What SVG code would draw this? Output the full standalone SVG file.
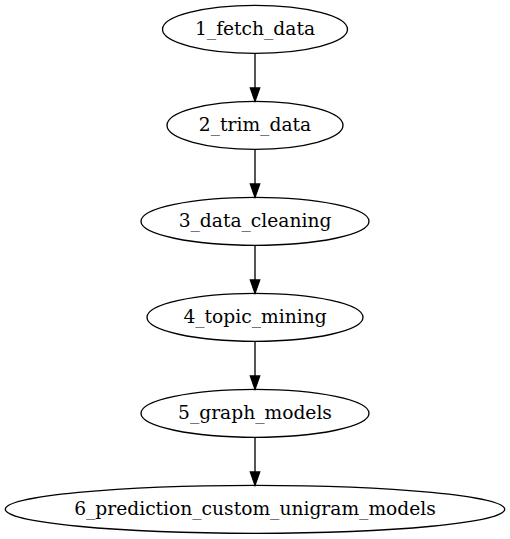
<svg xmlns="http://www.w3.org/2000/svg" width="510" height="539" viewBox="0 0 510 539">
<style>
.node ellipse{fill:none;stroke:#000;stroke-width:1.33}
.node text{font-family:"DejaVu Serif",serif;font-size:18.67px;text-anchor:middle;fill:#000}
.edge path{fill:none;stroke:#000;stroke-width:1.33}
.edge polygon{fill:#000;stroke:#000;stroke-width:1.33}
</style>
<rect width="510" height="539" fill="#fff"/>
<g id="n1" class="node"><ellipse cx="255" cy="29.3" rx="92.5" ry="24"/><text x="255" y="34.9">1_fetch_data</text></g>
<g id="n2" class="node"><ellipse cx="255" cy="125.3" rx="88" ry="24"/><text x="255" y="130.9">2_trim_data</text></g>
<g id="n3" class="node"><ellipse cx="255" cy="221.3" rx="114" ry="24"/><text x="255" y="226.9">3_data_cleaning</text></g>
<g id="n4" class="node"><ellipse cx="255" cy="317.3" rx="108" ry="24"/><text x="255" y="322.9">4_topic_mining</text></g>
<g id="n5" class="node"><ellipse cx="255" cy="413.3" rx="114" ry="24"/><text x="255" y="418.9">5_graph_models</text></g>
<g id="n6" class="node"><ellipse cx="255" cy="509.3" rx="249.7" ry="24"/><text x="255" y="514.9">6_prediction_custom_unigram_models</text></g>
<g id="edges" class="edge">
<path d="M255,53.3V88"/><polygon points="259.67,88 255,101.3 250.33,88"/>
<path d="M255,149.3V184"/><polygon points="259.67,184 255,197.3 250.33,184"/>
<path d="M255,245.3V280"/><polygon points="259.67,280 255,293.3 250.33,280"/>
<path d="M255,341.3V376"/><polygon points="259.67,376 255,389.3 250.33,376"/>
<path d="M255,437.3V472"/><polygon points="259.67,472 255,485.3 250.33,472"/>
</g>
</svg>
